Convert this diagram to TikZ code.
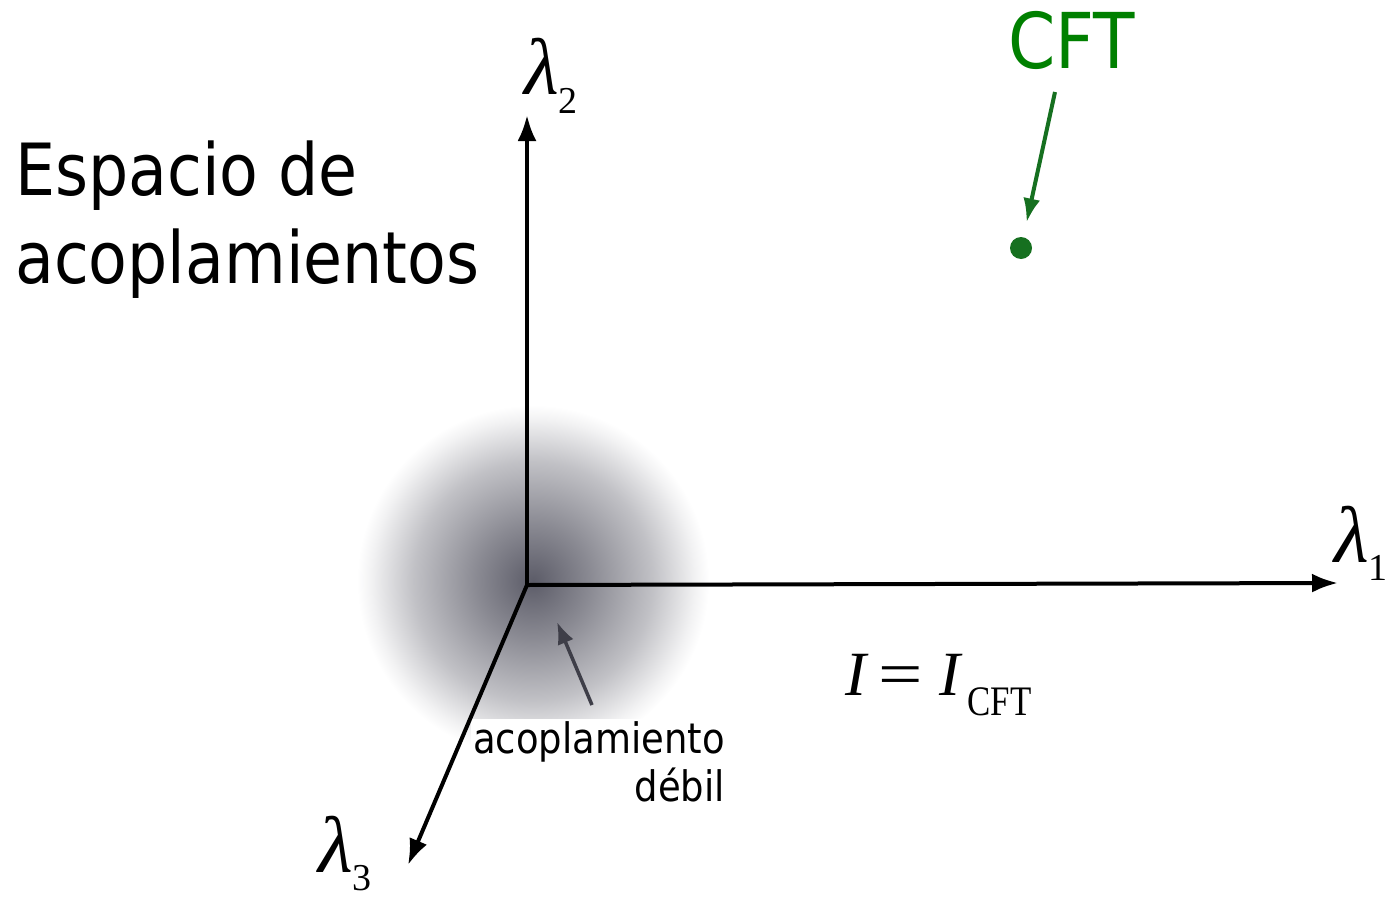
\documentclass[tikz,border=0pt]{standalone}
\usepackage[no-math]{fontspec}
\setmainfont[FakeStretch=0.88]{DejaVu Sans}
\newfontfamily\lserif{Liberation Serif}
\usetikzlibrary{positioning, arrows.meta}
\definecolor{cftgreen}{RGB}{0,128,0}
\definecolor{dotgreen}{RGB}{22,112,32}
\definecolor{blobgray}{RGB}{92,92,104}
\definecolor{pointgray}{RGB}{62,62,72}
\pgfdeclareradialshading{weakblob}{\pgfpoint{0bp}{0bp}}{color(0bp)=(blobgray); color(8bp)=(blobgray!72!white); color(17bp)=(blobgray!38!white); color(23bp)=(blobgray!8!white); color(25bp)=(white); color(50bp)=(white)}
\newcommand{\coupling}[1]{{\lserif\fontsize{80}{80}\selectfont\itshape λ}\raisebox{-18pt}{\lserif\fontsize{38}{38}\selectfont #1}}

\begin{document}
\begin{tikzpicture}[x=1pt, y=-1pt,
		axisline/.style={line width=4pt, -{Latex[length=26pt, width=19pt]}},
		pointer/.style={line width=3.5pt, draw=pointgray, -{Latex[length=22pt, width=17pt]}},
		cftarrow/.style={line width=4pt, draw=dotgreen, -{Latex[length=24pt, width=17pt]}},
		axislabel/.style={inner sep=0pt, anchor=base west},
		sans/.style={inner sep=0pt, font=\fontsize{72}{88}\selectfont}
		]
		\useasboundingbox (0,0) rectangle (1389,899);
		
		% Weak coupling region
		\shade[shading=weakblob] (533,581) circle (176);
		
		% Define Nodes
		\coordinate (O) at (527,585);
		\coordinate (X1) at (1338,583);
		\coordinate (X2) at (527,115);
		\coordinate (X3) at (408,865);
		
		\node[axislabel] (L1) at (1334,562) {\coupling{1}};
		\node[axislabel] (L2) at (524,95) {\coupling{2}};
		\node[axislabel] (L3) at (318,872) {\coupling{3}};
		
		\node[sans, anchor=base west, align=left] (title) at (15,283) {Espacio de\\acoplamientos};
		
		\node[inner sep=0pt, anchor=base west, text=cftgreen, font=\fontsize{77}{77}\selectfont] (CFT) at (1008,68) {CFT};
		\node[circle, fill=dotgreen, inner sep=0pt, minimum size=22pt] (cftdot) at (1021,248) {};
		\coordinate (cfttail) at (1055,92);
		
		\node[fill=white, inner sep=2pt, anchor=north east, align=right, font=\fontsize{42}{48}\selectfont] (weak) at (727,719) {acoplamiento\\débil};
		\coordinate (ptail) at (592,705);
		\coordinate (ptip) at (557,622);
		
		\node[inner sep=0pt, anchor=base west, font=\lserif\fontsize{63}{63}\selectfont] (eq) at (845,695) {\textit{I}\hspace{10pt}\scalebox{1.25}[1]{=}\hspace{16pt}\textit{I}\hspace{5pt}\raisebox{-20pt}{\scalebox{0.83}[1]{\fontsize{42}{42}\selectfont CFT}}};
		
		% Axes
		\draw[axisline] (O) -- (X1);
		\draw[axisline] (O) -- (X2);
		\draw[axisline] (O) -- (X3);
		
		% Pointers
		\draw[pointer] (ptail) -- (ptip);
		\draw[cftarrow, shorten >=15pt] (cfttail) -- (cftdot);
		
	\end{tikzpicture}
\end{document}
